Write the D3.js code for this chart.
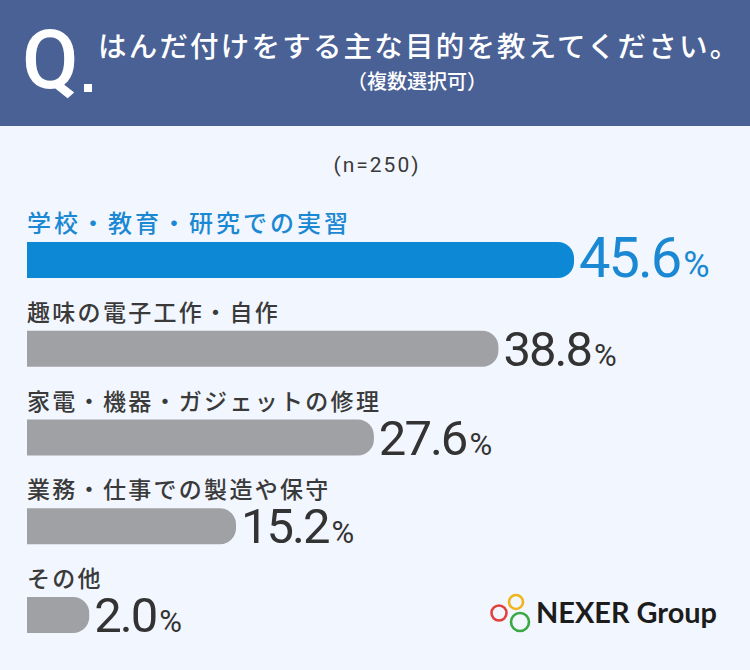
<!DOCTYPE html>
<html><head><meta charset="utf-8">
<script src="https://cdn.jsdelivr.net/npm/d3@7"></script>
<style>
html,body{margin:0;padding:0;background:#f2f6fe;}
svg{display:block;}
</style></head>
<body><svg id="c" width="750" height="670"></svg>
<script>
const categories = ["学校・教育・研究での実習","趣味の電子工作・自作","家電・機器・ガジェットの修理","業務・仕事での製造や保守","その他"];
const values = [45.6, 38.8, 27.6, 15.2, 2.0];
const highlight = [true, false, false, false, false];
const titleText = "はんだ付けをする主な目的を教えてください。";
const subText = "（複数選択可）";
const nText = "(n=250)";

const svg = d3.select("#c");
const W = 750, H = 670;
const JP = "'Noto Sans CJK JP','Noto Sans',sans-serif";
const NUM = "Roboto,'Noto Sans',sans-serif";

svg.append("rect").attr("width",W).attr("height",H).attr("fill","#f2f6fe");
svg.append("rect").attr("width",W).attr("height",126).attr("fill","#4a6196");

svg.append("text").attr("x",22).attr("y",88).attr("fill","#fff")
  .attr("font-family",NUM).attr("font-weight",500).attr("font-size",82)
  .attr("letter-spacing",-3).text("Q");
svg.append("rect").attr("x",84).attr("y",84).attr("width",8).attr("height",8).attr("fill","#fff");
svg.append("text").attr("x",98).attr("y",57).attr("fill","#fff")
  .attr("font-family",JP).attr("font-weight",500).attr("font-size",28.5)
  .attr("letter-spacing",2.2).text(titleText);
svg.append("text").attr("x",417).attr("y",89).attr("fill","#fff").attr("text-anchor","middle")
  .attr("font-family",JP).attr("font-weight",500).attr("font-size",20).text(subText);

svg.append("text").attr("x",377).attr("y",172).attr("fill","#3a3a3a").attr("text-anchor","middle")
  .attr("font-family",NUM).attr("font-size",21).attr("letter-spacing",2).text(nText);

const x0 = 27;
const w = d3.scaleLinear().domain([0, d3.max(values)]).range([40, 547]);
const y = d3.scaleBand().domain(categories).range([242, 242 + 88.75*categories.length]).padding(0);
const bh = 36, r = 16;

function barPath(x1, yt){
  const rr = Math.min(r, (x1-x0));
  return `M${x0},${yt}H${x1-rr}A${rr},${rr} 0 0 1 ${x1},${yt+rr}V${yt+bh-rr}A${rr},${rr} 0 0 1 ${x1-rr},${yt+bh}H${x0}Z`;
}

const rows = svg.selectAll("g.row").data(categories.map((c,i)=>({c, v:values[i], hl:highlight[i]})))
  .enter().append("g").attr("class","row");

rows.append("text").attr("x",x0).attr("y",d=>y(d.c)-10)
  .attr("fill",d=>d.hl?"#1a88d2":"#3a3a3a")
  .attr("font-family",JP).attr("font-weight",500).attr("font-size",d=>d.hl?24:23)
  .attr("letter-spacing",d=>d.hl?3:2.3).text(d=>d.c);

rows.append("path").attr("d",d=>barPath(x0 + w(d.v), y(d.c)))
  .attr("fill",d=>d.hl?"#0d88d5":"#a0a1a5");

const vt = rows.append("text").attr("x",d=>x0 + w(d.v) + 5).attr("y",d=>y(d.c)+35)
  .attr("fill",d=>d.hl?"#1a88d2":"#333")
  .attr("font-family",NUM).attr("font-weight",400);
vt.append("tspan").attr("font-size",d=>d.hl?56:49).attr("letter-spacing",-2).text(d=>d.v.toFixed(1));
vt.append("tspan").attr("dx",3).attr("font-size",d=>d.hl?36:31).text("%");

// logo
const logo = svg.append("g");
logo.append("circle").attr("cx",516).attr("cy",602).attr("r",7).attr("fill","none").attr("stroke","#f1b41c").attr("stroke-width",2.6);
logo.append("circle").attr("cx",499).attr("cy",613).attr("r",7.5).attr("fill","none").attr("stroke","#e1423d").attr("stroke-width",2.6);
logo.append("circle").attr("cx",520).attr("cy",622).attr("r",9).attr("fill","none").attr("stroke","#3aa845").attr("stroke-width",2.6);
logo.append("text").attr("x",536).attr("y",623).attr("fill","#1c1c1c")
  .attr("font-family","Lato,'Noto Sans',sans-serif").attr("font-weight",700).attr("font-size",29)
  .attr("textLength",181).attr("lengthAdjust","spacingAndGlyphs").text("NEXER Group");
</script></body></html>
